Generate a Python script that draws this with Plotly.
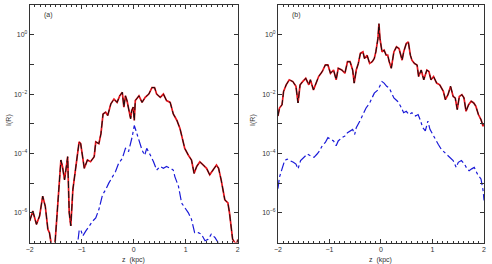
import plotly.graph_objects as go

# ---------------- data ----------------
# panel (a): total (red/black) curve
za_tot = [-2.00, -1.94, -1.87, -1.81, -1.75, -1.70, -1.65, -1.62, -1.59, -1.56, -1.52, -1.46, -1.43,
          -1.40, -1.37, -1.33, -1.30, -1.27, -1.24, -1.21, -1.17, -1.11, -1.05, -1.02, -0.95, -0.89,
          -0.83, -0.76, -0.73, -0.67, -0.63, -0.59, -0.54, -0.50, -0.44, -0.38, -0.32, -0.27, -0.22,
          -0.19, -0.16, -0.13, -0.10, -0.06, -0.04, -0.01, 0.01, 0.03, 0.10, 0.16, 0.22, 0.29, 0.35,
          0.40, 0.44, 0.51, 0.57, 0.63, 0.70, 0.76, 0.83, 0.89, 0.92, 0.98, 1.05, 1.11, 1.16, 1.21,
          1.27, 1.33, 1.40, 1.46, 1.52, 1.59, 1.63, 1.68, 1.75, 1.81, 1.84, 1.90, 1.94, 1.98, 2.00]
la_tot = [-6.28, -5.94, -6.39, -6.11, -5.44, -5.78, -6.56, -6.67, -7.00, -7.30, -7.20, -5.56, -4.89,
          -4.22, -4.44, -4.89, -4.50, -4.11, -6.00, -6.44, -5.22, -4.33, -3.61, -3.67, -4.50, -4.22,
          -4.28, -4.11, -3.61, -3.67, -3.33, -2.67, -2.61, -2.72, -2.33, -2.17, -2.28, -2.06, -1.94,
          -2.44, -2.06, -2.22, -2.50, -2.83, -2.56, -2.44, -2.89, -2.22, -2.06, -2.28, -2.11, -2.00, -1.78,
          -1.78, -2.00, -2.11, -2.00, -2.22, -2.28, -2.67, -2.89, -3.17, -3.39, -3.83, -4.06, -4.22, -4.67, -4.44,
          -4.28, -4.39, -4.50, -4.72, -4.56, -4.39, -4.50, -4.89, -5.56, -5.67, -6.00, -6.89, -7.00, -7.05, -6.90]

# panel (a): dash-dot (blue) curve
za_c = [-1.11, -1.08, -1.05, -1.02, -0.98, -0.92, -0.86, -0.79, -0.73, -0.67, -0.60, -0.54, -0.48,
        -0.41, -0.35, -0.29, -0.22, -0.16, -0.10, -0.03, 0.01, 0.04, 0.10, 0.16, 0.21, 0.25, 0.32,
        0.38, 0.44, 0.51, 0.57, 0.63, 0.70, 0.76, 0.79, 0.86, 0.92, 0.98, 1.05, 1.11, 1.17, 1.24,
        1.30, 1.37, 1.43, 1.49, 1.56, 1.62, 1.68]
la_c = [-7.50, -7.00, -6.61, -6.56, -6.78, -6.61, -6.44, -6.28, -6.17, -5.89, -5.39, -5.22, -5.00,
        -4.78, -4.61, -4.33, -4.17, -3.83, -3.94, -3.44, -3.06, -3.22, -3.56, -3.89, -4.06, -3.83, -4.06,
        -4.28, -4.56, -4.44, -4.50, -4.44, -4.50, -4.56, -4.78, -5.11, -5.67, -5.83, -6.00, -6.22, -6.67, -6.67,
        -6.72, -6.94, -6.89, -6.72, -6.83, -7.00, -7.50]

# panel (b): total (red/black) curve
zb_tot = [-2.00, -1.97, -1.92, -1.89, -1.84, -1.78, -1.71, -1.65, -1.61, -1.57, -1.52, -1.46, -1.40,
          -1.37, -1.31, -1.27, -1.21, -1.14, -1.08, -1.03, -0.98, -0.92, -0.87, -0.83, -0.76, -0.70,
          -0.65, -0.60, -0.55, -0.52, -0.48, -0.44, -0.40, -0.35, -0.32, -0.27, -0.22, -0.17, -0.13,
          -0.10, -0.06, -0.04, -0.02, 0.02, 0.06, 0.10, 0.13, 0.16, 0.20, 0.25, 0.30, 0.35, 0.38, 0.41,
          0.44, 0.49, 0.53, 0.57, 0.60, 0.65, 0.70, 0.73, 0.78, 0.83, 0.89, 0.93, 0.97, 1.02, 1.08,
          1.14, 1.21, 1.25, 1.30, 1.35, 1.40, 1.44, 1.48, 1.52, 1.57, 1.61, 1.65, 1.70, 1.75, 1.80,
          1.84, 1.89, 1.94, 1.98, 2.00]
lb_tot = [-2.74, -2.47, -2.36, -1.91, -1.69, -1.52, -1.58, -1.74, -2.30, -1.69, -1.58, -1.47, -1.69,
          -1.52, -1.86, -1.69, -1.41, -1.24, -1.02, -1.02, -1.30, -1.19, -1.52, -1.13, -1.19, -1.30,
          -0.91, -0.91, -1.19, -1.63, -1.19, -0.97, -0.63, -0.58, -0.80, -0.69, -0.97, -0.91, -0.80,
          -0.58, -0.13, 0.37, -0.13, -0.58, -0.52, -0.69, -0.69, -0.91, -1.13, -0.58, -0.41, -0.47, -0.63,
          -0.86, -0.58, -0.30, -0.24, -0.69, -0.86, -0.97, -1.02, -1.41, -1.19, -1.52, -1.19, -1.24, -1.52,
          -1.41, -1.63, -1.69, -1.91, -2.19, -2.02, -1.74, -2.08, -2.13, -2.52, -2.08, -2.02, -2.13, -2.58,
          -2.36, -2.24, -2.30, -2.41, -2.69, -2.86, -3.08, -3.02]

# panel (b): dash-dot (blue) curve
zb_c = [-2.00, -1.97, -1.92, -1.87, -1.82, -1.76, -1.70, -1.65, -1.61, -1.56, -1.49, -1.43, -1.37,
        -1.30, -1.24, -1.19, -1.14, -1.08, -1.03, -0.98, -0.92, -0.87, -0.83, -0.76, -0.70, -0.65,
        -0.60, -0.55, -0.51, -0.48, -0.41, -0.35, -0.29, -0.22, -0.17, -0.13, -0.06, 0.02, 0.06,
        0.11, 0.16, 0.21, 0.25, 0.32, 0.38, 0.44, 0.49, 0.54, 0.60, 0.67, 0.72, 0.76, 0.81, 0.86,
        0.91, 0.95, 1.00, 1.05, 1.11, 1.17, 1.24, 1.30, 1.35, 1.40, 1.46, 1.50, 1.56, 1.62, 1.67,
        1.71, 1.76, 1.81, 1.87, 1.94, 1.98, 2.00]
lb_c = [-5.19, -4.80, -4.52, -4.24, -4.19, -4.24, -4.30, -4.36, -4.52, -4.24, -4.13, -4.02, -4.08,
        -4.13, -4.02, -3.91, -3.74, -3.63, -3.47, -3.52, -3.58, -3.74, -3.58, -3.47, -3.41, -3.30,
        -3.24, -3.19, -3.36, -3.13, -2.91, -2.69, -2.47, -2.30, -2.13, -1.97, -1.86, -1.58, -1.63,
        -1.74, -1.80, -1.97, -2.13, -2.24, -2.41, -2.63, -2.58, -2.69, -2.63, -2.74, -2.69, -2.86, -3.13,
        -3.24, -2.91, -3.19, -3.36, -3.52, -3.69, -3.86, -3.97, -4.08, -4.13, -4.24, -4.47, -4.30, -4.24,
        -4.36, -4.52, -4.58, -4.52, -4.47, -4.69, -4.86, -5.24, -5.58]

x_ticks = [-2, -1, 0, 1, 2]
y_label_decades = [0, -2, -4, -6]
y_minor_decades = [-7, -5, -3, -1, 1]
y_labels = ["10<sup>0</sup>", "10<sup>\u22122</sup>", "10<sup>\u22124</sup>", "10<sup>\u22126</sup>"]
panel_labels = ["(a)", "(b)"]

# ---------------- figure ----------------
W, H = 492, 264
fig = go.Figure()

def pw(v):
    return [10 ** x for x in v]

panels = [(za_tot, la_tot, za_c, la_c), (zb_tot, lb_tot, zb_c, lb_c)]
for i, (zt, lt, zc, lc) in enumerate(panels):
    xa = "x" if i == 0 else "x2"
    ya = "y" if i == 0 else "y2"
    fig.add_trace(go.Scatter(x=zt, y=pw(lt), mode="lines", xaxis=xa, yaxis=ya,
                             line=dict(color="#e8141c", width=1.7), showlegend=False, hoverinfo="skip"))
    fig.add_trace(go.Scatter(x=zt, y=pw(lt), mode="lines", xaxis=xa, yaxis=ya,
                             line=dict(color="#111111", width=1.0, dash="7px,3px"), showlegend=False, hoverinfo="skip"))
    fig.add_trace(go.Scatter(x=zc, y=pw(lc), mode="lines", xaxis=xa, yaxis=ya,
                             line=dict(color="#1a1ad8", width=1.2, dash="dashdot"), showlegend=False, hoverinfo="skip"))

font = dict(family="Liberation Sans, Arial, sans-serif", size=7, color="#333333")
x_dom = [[26 / W, 236.7 / W], [277.3 / W, 486 / W]]
y_dom = [1 - 242.5 / H, 1 - 5 / H]

for i in range(2):
    sfx = "" if i == 0 else "2"
    fig.layout["xaxis" + sfx] = dict(
        domain=x_dom[i], range=[-2, 2], anchor="y" + sfx,
        tickvals=x_ticks, ticktext=[str(t).replace("-", "\u2212") for t in x_ticks],
        ticks="inside", ticklen=4, tickcolor="#333", tickwidth=1,
        minor=dict(dtick=0.1, ticks="inside", ticklen=2, tickcolor="#333", tickwidth=1),
        showline=True, linecolor="#333", linewidth=1, mirror="ticks",
        showgrid=False, zeroline=False, tickfont=font,
    )
    fig.layout["yaxis" + sfx] = dict(
        domain=y_dom, type="log", range=[-7, 1], anchor="x" + sfx,
        tickvals=[10 ** d for d in y_label_decades], ticktext=y_labels,
        ticks="inside", ticklen=4, tickcolor="#333", tickwidth=1,
        minor=dict(tickvals=[10 ** d for d in y_minor_decades], ticks="inside", ticklen=4,
                   tickcolor="#333", tickwidth=1, showgrid=False),
        showline=True, linecolor="#333", linewidth=1, mirror="ticks",
        showgrid=False, zeroline=False, tickfont=font,
    )

ann = []
centers = [(x_dom[0][0] + x_dom[0][1]) / 2, (x_dom[1][0] + x_dom[1][1]) / 2]
for i in range(2):
    ann.append(dict(text="z  (kpc)", x=centers[i], y=1 - 259.5 / H, xref="paper", yref="paper",
                    showarrow=False, font=font, xanchor="center", yanchor="middle"))
ann.append(dict(text="I(R)", x=5 / W, y=1 - 120 / H, xref="paper", yref="paper", textangle=-90,
                showarrow=False, font=font, xanchor="center", yanchor="middle"))
ann.append(dict(text="I(R)", x=252 / W, y=1 - 120 / H, xref="paper", yref="paper", textangle=-90,
                showarrow=False, font=font, xanchor="center", yanchor="middle"))
ann.append(dict(text=panel_labels[0], x=45 / W, y=1 - 15 / H, xref="paper", yref="paper",
                showarrow=False, font=font, xanchor="center", yanchor="middle"))
ann.append(dict(text=panel_labels[1], x=296 / W, y=1 - 15 / H, xref="paper", yref="paper",
                showarrow=False, font=font, xanchor="center", yanchor="middle"))

fig.update_layout(width=W, height=H, margin=dict(l=0, r=0, t=0, b=0),
                  paper_bgcolor="white", plot_bgcolor="white", annotations=ann)

fig.write_html("out.html")
